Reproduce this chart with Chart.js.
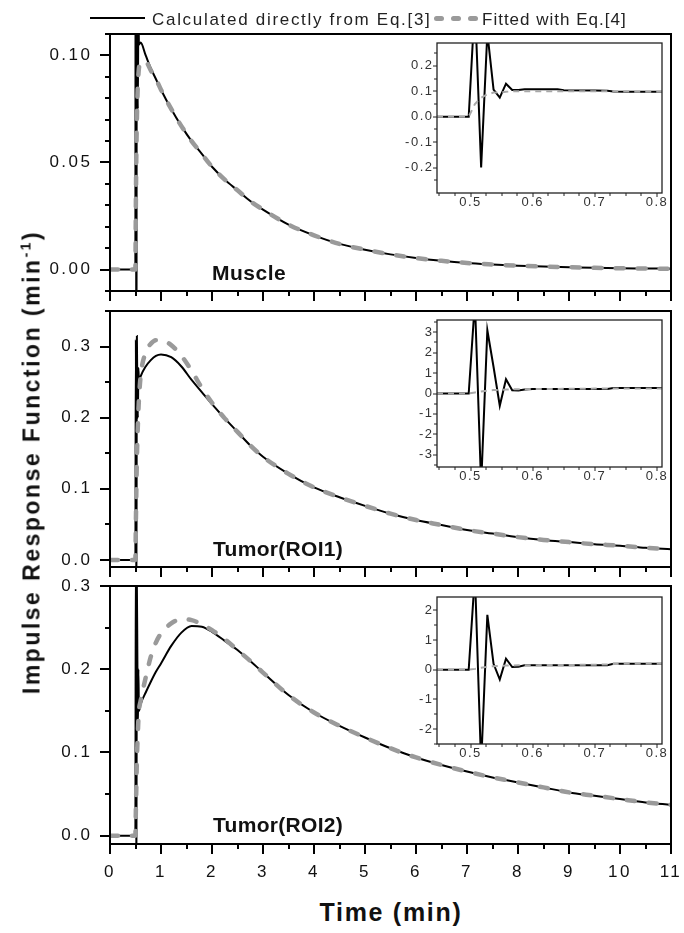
<!DOCTYPE html>
<html><head><meta charset="utf-8">
<script src="https://cdn.jsdelivr.net/npm/chart.js@4"></script>
<style>
html,body{margin:0;padding:0;background:#fff;}
#fig{position:relative;width:684px;height:933px;overflow:hidden;background:#fff;font-family:"Liberation Sans",Arial,sans-serif;}
#fig canvas{position:absolute;}
.txt{position:absolute;white-space:nowrap;line-height:1;color:#111;}
.blob{position:absolute;width:10px;height:5px;border-radius:3px;background:#9a9a9a;}
#dbg{position:absolute;left:150px;top:330px;font-size:12px;color:red;white-space:pre;z-index:9}
</style></head><body>
<div id="fig">
  <canvas id="p1" width="684" height="285" style="left:0;top:20px"></canvas>
  <canvas id="p2" width="684" height="284" style="left:0;top:297px"></canvas>
  <canvas id="p3" width="684" height="312" style="left:0;top:572px"></canvas>
  <canvas id="i1" width="273" height="180" style="left:397px;top:33px"></canvas>
  <canvas id="i2" width="273" height="177" style="left:397px;top:310px"></canvas>
  <canvas id="i3" width="273" height="177" style="left:397px;top:587px"></canvas>

  <div style="position:absolute;left:90px;top:17px;width:55px;height:2px;background:#000"></div>
  <div class="txt" style="left:152px;top:11px;font-size:17px;letter-spacing:1.7px;color:#222">Calculated directly from Eq.[3]</div>
  <div class="blob" style="left:434px;top:16px"></div>
  <div class="blob" style="left:451px;top:16px"></div>
  <div class="blob" style="left:468px;top:16px"></div>
  <div class="txt" style="left:482px;top:11px;font-size:17px;letter-spacing:1px;color:#222">Fitted with Eq.[4]</div>

  <div class="txt" style="left:212px;top:262px;font-size:21px;font-weight:bold;letter-spacing:0.5px">Muscle</div>
  <div class="txt" style="left:213px;top:538px;font-size:21px;font-weight:bold;letter-spacing:0.3px">Tumor(ROI1)</div>
  <div class="txt" style="left:213px;top:814px;font-size:21px;font-weight:bold;letter-spacing:0.3px">Tumor(ROI2)</div>

  <div class="txt" style="left:391px;top:900px;transform:translateX(-50%);font-size:25px;font-weight:bold;letter-spacing:1.7px">Time (min)</div>
  <div class="txt" style="left:32px;top:462px;transform:translate(-50%,-50%) rotate(-90deg);font-size:23px;font-weight:bold;letter-spacing:2.5px">Impulse Response Function (min<sup style="font-size:14px;vertical-align:top;position:relative;top:-2px">-1</sup>)</div>
  <div id="dbg"></div>
</div>
<script>
// ---------- DATA ----------
const timeMain = [0, 0.1, 0.2, 0.3, 0.4, 0.487, 0.497, 0.507, 0.517, 0.527, 0.537, 0.547, 0.557, 0.567,
  0.6, 0.7, 0.8, 0.9, 1.0, 1.2, 1.4, 1.6, 1.8, 2.0, 2.25, 2.5, 2.75, 3.0,
  3.5, 4.0, 4.5, 5.0, 5.5, 6.0, 6.5, 7.0, 7.5, 8.0, 8.5, 9.0, 9.5, 10.0, 10.5, 11.0];

const muscleCalc = [0, 0, 0, 0, 0, 0, 0, 0.45, -0.2, 0.33, 0.107, 0.075, 0.13, 0.105,
  0.106, 0.100, 0.094, 0.089, 0.084, 0.075, 0.067, 0.060, 0.054, 0.048, 0.042, 0.037, 0.032, 0.028,
  0.021, 0.016, 0.012, 0.0093, 0.0071, 0.0054, 0.0041, 0.0031, 0.0024, 0.0018, 0.0014, 0.0011, 0.0008, 0.0006, 0.0005, 0.0004];
const muscleFit = [0, 0, 0, 0, 0, 0, 0, 0.03, 0.055, 0.07, 0.08, 0.087, 0.091, 0.094,
  0.097, 0.097, 0.093, 0.089, 0.084, 0.075, 0.067, 0.060, 0.054, 0.048, 0.042, 0.037, 0.032, 0.028,
  0.021, 0.016, 0.012, 0.0093, 0.0071, 0.0054, 0.0041, 0.0031, 0.0024, 0.0018, 0.0014, 0.0011, 0.0008, 0.0006, 0.0005, 0.0004];

const roi1Calc = [0, 0, 0, 0, 0, 0, 0, 0.31, -0.1, 0.315, 0.23, 0.2, 0.27, 0.25,
  0.258, 0.272, 0.281, 0.287, 0.289, 0.285, 0.272, 0.253, 0.236, 0.219, 0.199, 0.180, 0.161, 0.145,
  0.121, 0.102, 0.088, 0.076, 0.065, 0.056, 0.049, 0.042, 0.037, 0.032, 0.028, 0.025, 0.022, 0.020, 0.017, 0.015];
const roi1Fit = [0, 0, 0, 0, 0, 0, 0, 0.05, 0.1, 0.14, 0.17, 0.19, 0.21, 0.225,
  0.258, 0.292, 0.304, 0.309, 0.309, 0.302, 0.287, 0.266, 0.242, 0.221, 0.199, 0.180, 0.161, 0.145,
  0.121, 0.102, 0.088, 0.076, 0.065, 0.056, 0.049, 0.042, 0.037, 0.032, 0.028, 0.025, 0.022, 0.020, 0.017, 0.015];

const roi2Calc = [0, 0, 0, 0, 0, 0, 0, 0.35, -0.1, 0.3, 0.21, 0.13, 0.2, 0.15,
  0.158, 0.172, 0.185, 0.197, 0.207, 0.228, 0.244, 0.252, 0.251, 0.245, 0.234, 0.223, 0.210, 0.196,
  0.169, 0.148, 0.132, 0.118, 0.105, 0.094, 0.085, 0.077, 0.070, 0.064, 0.058, 0.052, 0.048, 0.044, 0.040, 0.037];
const roi2Fit = [0, 0, 0, 0, 0, 0, 0, 0.03, 0.06, 0.09, 0.11, 0.125, 0.14, 0.15,
  0.162, 0.19, 0.215, 0.232, 0.243, 0.255, 0.26, 0.259, 0.254, 0.247, 0.236, 0.223, 0.210, 0.196,
  0.169, 0.148, 0.132, 0.118, 0.105, 0.094, 0.085, 0.077, 0.070, 0.064, 0.058, 0.052, 0.048, 0.044, 0.040, 0.037];

const timeInset = [0.446, 0.46, 0.47, 0.48, 0.49, 0.497, 0.507, 0.517, 0.527, 0.537, 0.547, 0.557, 0.567,
  0.577, 0.587, 0.6, 0.62, 0.64, 0.65, 0.7, 0.72, 0.73, 0.75, 0.8, 0.808];
const inset1Calc = [0, 0, 0, 0, 0, 0, 0.45, -0.2, 0.33, 0.107, 0.075, 0.13, 0.105,
  0.105, 0.108, 0.108, 0.108, 0.108, 0.104, 0.103, 0.102, 0.099, 0.098, 0.098, 0.098];
const inset1Fit = [0, 0, 0, 0, 0, 0, 0.05, 0.075, 0.088, 0.095, 0.095, 0.098, 0.1,
  0.1, 0.1, 0.1, 0.1, 0.1, 0.1, 0.1, 0.1, 0.1, 0.099, 0.098, 0.098];
const inset2Calc = [0, 0, 0, 0, 0, 0, 4.5, -4.5, 3.1, 1.3, -0.6, 0.7, 0.16,
  0.15, 0.2, 0.22, 0.22, 0.22, 0.22, 0.22, 0.22, 0.27, 0.27, 0.27, 0.27];
const inset2Fit = [0, 0, 0, 0, 0, 0, 0.05, 0.1, 0.14, 0.17, 0.18, 0.19, 0.2,
  0.21, 0.21, 0.22, 0.22, 0.22, 0.23, 0.24, 0.24, 0.25, 0.25, 0.25, 0.25];
const inset3Calc = [0, 0, 0, 0, 0, 0, 3.2, -3.2, 1.85, 0.2, -0.33, 0.37, 0.09,
  0.1, 0.15, 0.15, 0.15, 0.15, 0.15, 0.15, 0.15, 0.2, 0.2, 0.2, 0.2];
const inset3Fit = [0, 0, 0, 0, 0, 0, 0.03, 0.07, 0.1, 0.12, 0.13, 0.14, 0.14,
  0.15, 0.15, 0.15, 0.16, 0.16, 0.16, 0.17, 0.18, 0.19, 0.2, 0.2, 0.2];

// tick labels / positions
const mainXMajor = [0, 1, 2, 3, 4, 5, 6, 7, 8, 9, 10, 11];
const mainXMinor = [0.5, 1.5, 2.5, 3.5, 4.5, 5.5, 6.5, 7.5, 8.5, 9.5, 10.5];
const p1YMajor = [0, 0.05, 0.10];
const p1YMinor = [-0.01, 0.01, 0.02, 0.03, 0.04, 0.06, 0.07, 0.08, 0.09, 0.11];
const p2YMajor = [0, 0.1, 0.2, 0.3];
const p2YMinor = [0.05, 0.15, 0.25, 0.35];
const p3YMajor = [0, 0.1, 0.2, 0.3];
const p3YMinor = [0.05, 0.15, 0.25];
const insXMajor = [0.5, 0.6, 0.7, 0.8];
const insXMinor = [0.45, 0.475, 0.525, 0.55, 0.575, 0.625, 0.65, 0.675, 0.725, 0.75, 0.775];
const i1YMajor = [-0.2, -0.1, 0, 0.1, 0.2];
const i1YMinor = [-0.25, -0.15, -0.05, 0.05, 0.15, 0.25];
const i2YMajor = [-3, -2, -1, 0, 1, 2, 3];
const i2YMinor = [-3.5, -2.5, -1.5, -0.5, 0.5, 1.5, 2.5, 3.5];
const i3YMajor = [-2, -1, 0, 1, 2];
const i3YMinor = [-2.5, -1.5, -0.5, 0.5, 1.5];

// ---------- PLUGINS ----------
const frameTicks = {
  id: 'frameTicks',
  afterDraw(chart, args, o) {
    const {ctx, chartArea: a, scales: {x, y}} = chart;
    ctx.save();
    ctx.strokeStyle = o.color;
    ctx.lineWidth = o.tickWidth;
    ctx.beginPath();
    for (const [vals, len] of [[o.xMajor, o.xMajorLen], [o.xMinor, o.xMinorLen]]) for (const v of vals) {
      const px = Math.round(x.getPixelForValue(v));
      ctx.moveTo(px, a.bottom); ctx.lineTo(px, a.bottom + len);
    }
    for (const [vals, len] of [[o.yMajor, o.yMajorLen], [o.yMinor, o.yMinorLen]]) for (const v of vals) {
      const py = Math.round(y.getPixelForValue(v));
      ctx.moveTo(a.left, py); ctx.lineTo(a.left - len, py);
    }
    ctx.stroke();
    ctx.lineWidth = o.frameWidth;
    ctx.strokeRect(a.left, a.top, a.right - a.left, a.bottom - a.top);
    ctx.restore();
  }
};
// letter spacing for tick labels: y labels drawn before datasets, x labels (z:1) after
const labelSpacing = {
  id: 'labelSpacing',
  beforeDraw(chart, args, o) { chart.ctx.letterSpacing = o.y; },
  beforeDatasetsDraw(chart, args, o) { chart.ctx.letterSpacing = o.x; },
  afterDraw(chart) { chart.ctx.letterSpacing = '0px'; }
};

const pts = (xs, ys) => xs.map((v, i) => ({x: v, y: ys[i]}));
const FONT = '"Liberation Sans", Arial, sans-serif';
const hiddenTicks = len => ({display: true, drawOnChartArea: false, drawTicks: true, tickLength: len, tickColor: 'rgba(0,0,0,0)', color: 'rgba(0,0,0,0)'});
const dbg = [];
function check(c, L, R, T, B) {
  const a = c.chartArea;
  if (Math.abs(a.left - L) > 0.6 || Math.abs(a.right - R) > 0.6 || Math.abs(a.top - T) > 0.6 || Math.abs(a.bottom - B) > 0.6)
    dbg.push(c.canvas.id + ' L' + a.left.toFixed(1) + ' R' + a.right.toFixed(1) + ' T' + a.top.toFixed(1) + ' B' + a.bottom.toFixed(1));
}

function mainChart(id, calc, fit, yMin, yMax, yMajor, yMinor, dec, showX, xH) {
  return new Chart(document.getElementById(id), {
    type: 'line',
    data: {datasets: [
      {label: 'Fitted with Eq.[4]', data: pts(timeMain, fit), borderColor: '#9a9a9a', borderWidth: 4.5,
       borderDash: [8, 14], borderCapStyle: 'round', pointRadius: 0, cubicInterpolationMode: 'monotone', clip: 0},
      {label: 'Calculated directly from Eq.[3]', data: pts(timeMain, calc), borderColor: '#000', borderWidth: 2,
       pointRadius: 0, cubicInterpolationMode: 'monotone', clip: 0}
    ]},
    options: {
      responsive: false, animation: false, events: [],
      layout: {autoPadding: false, padding: {left: 0, right: 13, top: 14, bottom: 0}},
      plugins: {legend: {display: false}, tooltip: {enabled: false},
        labelSpacing: {y: '2.5px', x: '0px'},
        frameTicks: {color: '#000', tickWidth: 2, frameWidth: 2,
          xMajor: mainXMajor, xMinor: mainXMinor, xMajorLen: 10, xMinorLen: 5,
          yMajor: yMajor, yMinor: yMinor, yMajorLen: 10, yMinorLen: 5}},
      scales: {
        x: {type: 'linear', min: 0, max: 11, z: 1,
          grid: hiddenTicks(17), border: {display: false},
          afterBuildTicks: s => { s.ticks = mainXMajor.map(v => ({value: v})); },
          afterFit: s => { s.height = xH; },
          ticks: {display: showX, autoSkip: false, maxRotation: 0, padding: 1,
            font: {family: FONT, size: 17}, color: '#111', callback: v => String(v)}},
        y: {type: 'linear', min: yMin, max: yMax,
          grid: hiddenTicks(16.5), border: {display: false},
          afterBuildTicks: s => { s.ticks = yMajor.map(v => ({value: v})); },
          afterFit: s => { s.width = 110; },
          ticks: {autoSkip: false, padding: 1, font: {family: FONT, size: 17}, color: '#111',
            callback: v => v.toFixed(dec)}}
      }
    },
    plugins: [labelSpacing, frameTicks]
  });
}

function insetChart(id, calc, fit, yMin, yMax, yMajor, yMinor, dec) {
  return new Chart(document.getElementById(id), {
    type: 'line',
    data: {datasets: [
      {label: 'Fitted with Eq.[4]', data: pts(timeInset, fit), borderColor: '#a8a8a8', borderWidth: 2,
       borderDash: [6, 5], pointRadius: 0, tension: 0, clip: 0},
      {label: 'Calculated directly from Eq.[3]', data: pts(timeInset, calc), borderColor: '#000', borderWidth: 2,
       pointRadius: 0, tension: 0, clip: 0}
    ]},
    options: {
      responsive: false, animation: false, events: [],
      layout: {autoPadding: false, padding: {left: 0, right: 8, top: 10, bottom: 0}},
      plugins: {legend: {display: false}, tooltip: {enabled: false},
        labelSpacing: {y: '1.5px', x: '1.5px'},
        frameTicks: {color: '#222', tickWidth: 1, frameWidth: 1.3,
          xMajor: insXMajor, xMinor: insXMinor, xMajorLen: 4, xMinorLen: 3,
          yMajor: yMajor, yMinor: yMinor, yMajorLen: 4, yMinorLen: 3}},
      scales: {
        x: {type: 'linear', min: 0.446, max: 0.808, z: 1,
          grid: hiddenTicks(1), border: {display: false},
          afterBuildTicks: s => { s.ticks = insXMajor.map(v => ({value: v})); },
          afterFit: s => { s.height = 20; },
          ticks: {autoSkip: false, maxRotation: 0, padding: 1,
            font: {family: FONT, size: 13}, color: '#333', callback: v => v.toFixed(1)}},
        y: {type: 'linear', min: yMin, max: yMax,
          grid: hiddenTicks(2.5), border: {display: false},
          afterBuildTicks: s => { s.ticks = yMajor.map(v => ({value: v})); },
          afterFit: s => { s.width = 40; },
          ticks: {autoSkip: false, padding: 1, font: {family: FONT, size: 13}, color: '#333',
            callback: v => v.toFixed(dec)}}
      }
    },
    plugins: [labelSpacing, frameTicks]
  });
}

check(mainChart('p1', muscleCalc, muscleFit, -0.01, 0.11, p1YMajor, p1YMinor, 2, false, 14), 110, 671, 14, 271);
check(mainChart('p2', roi1Calc, roi1Fit, -0.01, 0.35, p2YMajor, p2YMinor, 1, false, 14), 110, 671, 14, 270);
check(mainChart('p3', roi2Calc, roi2Fit, -0.01, 0.30, p3YMajor, p3YMinor, 1, true, 40), 110, 671, 14, 272);
check(insetChart('i1', inset1Calc, inset1Fit, -0.3, 0.29, i1YMajor, i1YMinor, 1), 40, 265, 10, 160);
check(insetChart('i2', inset2Calc, inset2Fit, -3.6, 3.6, i2YMajor, i2YMinor, 0), 40, 265, 10, 157);
check(insetChart('i3', inset3Calc, inset3Fit, -2.5, 2.45, i3YMajor, i3YMinor, 0), 40, 265, 10, 157);
document.getElementById('dbg').textContent = dbg.join('\n');
</script>
</body></html>
